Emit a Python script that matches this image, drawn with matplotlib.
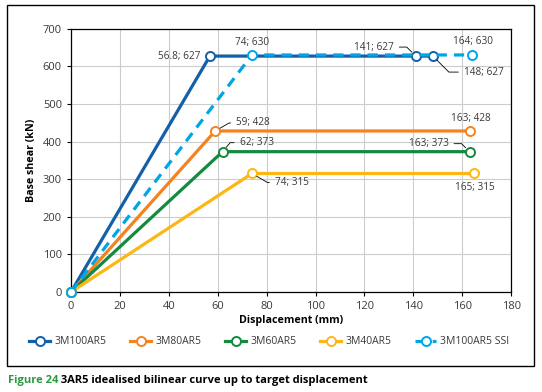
import matplotlib.pyplot as plt
from matplotlib.patches import Rectangle

plt.rcParams["font.family"] = ["Open Sans", "DejaVu Sans"]

# bilinear curves (displacement mm, base shear kN)
names = ["3M100AR5", "3M80AR5", "3M60AR5", "3M40AR5", "3M100AR5 SSI"]
x_100 = [0, 56.8, 141, 148]
y_100 = [0, 627, 627, 627]
x_80 = [0, 59, 163]
y_80 = [0, 428, 428]
x_60 = [0, 62, 163]
y_60 = [0, 373, 373]
x_40 = [0, 74, 165]
y_40 = [0, 315, 315]
x_ssi = [0, 74, 164]
y_ssi = [0, 630, 630]

colors = ["#1260a8", "#f58220", "#138a3e", "#fdb714", "#00a5e6"]
styles = ["-", "-", "-", "-", "--"]
xs = [x_100, x_80, x_60, x_40, x_ssi]
ys = [y_100, y_80, y_60, y_40, y_ssi]

txt_col = "#3a3a3a"

fig = plt.figure(figsize=(5.42, 3.92), dpi=100)
ax = fig.add_axes([0.131, 0.255, 0.812, 0.672])

# outer frame
fig.patches.append(Rectangle((0.013, 0.066), 0.972, 0.921, transform=fig.transFigure,
                             fill=False, edgecolor="black", linewidth=1.0))

for xv, yv, c, ls, n in zip(xs, ys, colors, styles, names):
    line, = ax.plot(xv, yv, color=c, lw=2.3, ls=ls, marker="o", ms=6.5,
                    mfc="white", mec=c, mew=1.4, label=n, clip_on=False, zorder=3)
    if ls == "--":
        line.set_dashes((3.2, 2.2))

# labels: (x, y, text, offset px, ha, leader angle at point or None)
labels = [
    (56.8, 627, "56.8; 627", (-10, 0), "right", None),
    (74, 630, "74; 630", (0, 12), "center", None),
    (141, 627, "141; 627", (-22, 9), "right", -45),
    (148, 627, "148; 627", (31, -16), "left", 135),
    (164, 630, "164; 630", (1, 13), "center", None),
    (59, 428, "59; 428", (21, 8), "left", -150),
    (163, 428, "163; 428", (1, 12), "center", None),
    (62, 373, "62; 373", (17, 9), "left", -130),
    (163, 373, "163; 373", (-21, 8), "right", -45),
    (74, 315, "74; 315", (23, -9), "left", 150),
    (165, 315, "165; 315", (0, -14), "center", None),
]
for xv, yv, t, off, ha, ang in labels:
    kw = {}
    if ang is not None:
        kw["arrowprops"] = dict(arrowstyle="-", color="black", lw=0.6,
                                shrinkA=2, shrinkB=4,
                                connectionstyle="angle,angleA=0,angleB=%d,rad=0" % ang)
    ax.annotate(t, (xv, yv), xytext=off, textcoords="offset pixels",
                ha=ha, va="center", fontsize=7.2, color=txt_col, zorder=5, **kw)

ax.set_xlim(0, 180)
ax.set_ylim(0, 700)
ax.set_xticks(range(0, 181, 20))
ax.set_yticks(range(0, 701, 100))
ax.grid(color="#cccccc", lw=0.8)
ax.set_axisbelow(True)
ax.tick_params(labelsize=8, labelcolor=txt_col, color="black", length=3, width=0.8)
for s in ax.spines.values():
    s.set_linewidth(0.9)
ax.set_xlabel("Displacement (mm)", fontsize=7.7, fontweight="bold", labelpad=2)
ax.set_ylabel("Base shear (kN)", fontsize=7.7, fontweight="bold", labelpad=4)

fig.legend(loc="center", bbox_to_anchor=(0.497, 0.128), ncol=5, frameon=False,
           fontsize=7.5, handlelength=2.0, columnspacing=2.3, handletextpad=0.4,
           labelcolor=txt_col)

# caption: green figure number followed by black title
t1 = fig.text(0.014, 0.03, "Figure 24", color="#2a9a3e", fontsize=8.0,
              fontweight="bold", va="center")
plt.annotate(" 3AR5 idealised bilinear curve up to target displacement", xy=(1, 0.5),
             xycoords=t1, va="center", ha="left", fontsize=8.0, fontweight="bold",
             color="black")

plt.savefig("out.png", dpi=100)
